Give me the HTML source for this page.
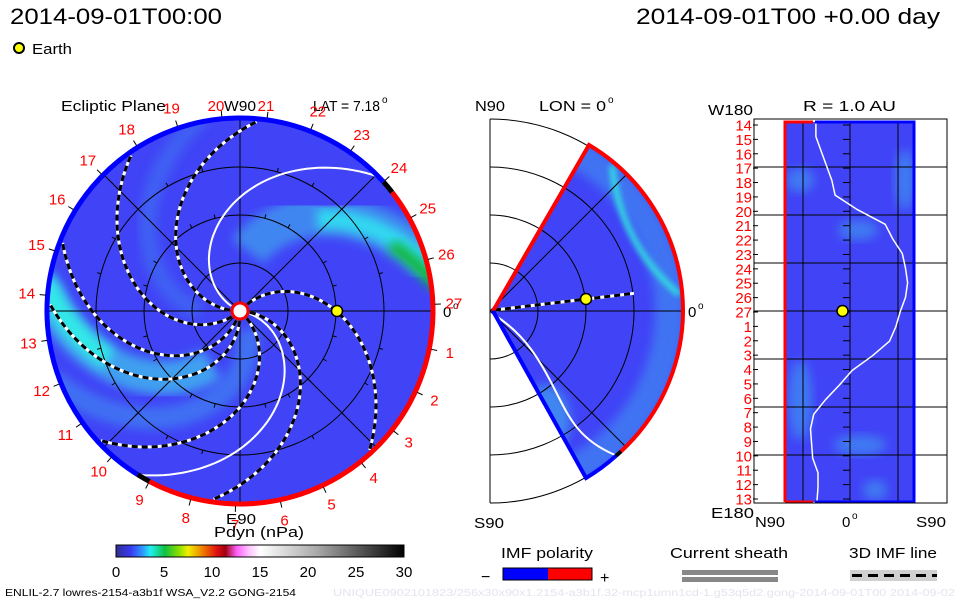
<!DOCTYPE html>
<html><head><meta charset="utf-8"><style>
html,body{margin:0;padding:0;background:#fff;}
svg{display:block;font-family:"Liberation Sans",sans-serif;}
</style></head><body>
<svg id="s" width="960" height="600" viewBox="0 0 960 600">
<defs>
<clipPath id="cl"><circle cx="240" cy="311" r="192"/></clipPath>
<clipPath id="cm"><path d="M493,311 L589,145 A192,192 0 0 1 586,478 Z"/></clipPath>
<clipPath id="cr"><rect x="785" y="122" width="129" height="380"/></clipPath>
<filter id="bl" x="-20%" y="-20%" width="140%" height="140%"><feGaussianBlur stdDeviation="5"/></filter>
<filter id="bl2"><feGaussianBlur stdDeviation="3"/></filter>
<linearGradient id="cbar" x1="0" x2="1" y1="0" y2="0">
<stop offset="0" stop-color="#303090"/><stop offset="0.05" stop-color="#3838f0"/>
<stop offset="0.09" stop-color="#3090ff"/><stop offset="0.12" stop-color="#20f0f0"/>
<stop offset="0.17" stop-color="#10c040"/><stop offset="0.22" stop-color="#90e000"/>
<stop offset="0.25" stop-color="#f0f000"/><stop offset="0.3" stop-color="#f08000"/>
<stop offset="0.35" stop-color="#e01010"/><stop offset="0.38" stop-color="#a00010"/>
<stop offset="0.42" stop-color="#ff60ff"/><stop offset="0.46" stop-color="#ffc0ff"/>
<stop offset="0.5" stop-color="#ffffff"/><stop offset="0.7" stop-color="#a8a8a8"/>
<stop offset="1" stop-color="#000000"/></linearGradient>
</defs>

<text x="10" y="24" font-size="22" textLength="212" lengthAdjust="spacingAndGlyphs">2014-09-01T00:00</text>
<text x="636" y="24" font-size="22" textLength="304" lengthAdjust="spacingAndGlyphs">2014-09-01T00 +0.00 day</text>
<circle cx="19" cy="48" r="5" fill="#ff0" stroke="#000" stroke-width="2"/>
<text x="32" y="54" font-size="15" textLength="40" lengthAdjust="spacingAndGlyphs">Earth</text>

<!-- left panel -->
<g>
<text x="61" y="111" font-size="15" textLength="105" lengthAdjust="spacingAndGlyphs">Ecliptic Plane</text>
<text x="224" y="111" font-size="15" textLength="32" lengthAdjust="spacingAndGlyphs">W90</text>
<text x="313" y="111" font-size="15" textLength="67" lengthAdjust="spacingAndGlyphs">LAT = 7.18</text>
<text x="382" y="103" font-size="10">o</text>
<text x="443" y="317" font-size="15">0</text>
<text x="453" y="309" font-size="10">o</text>
<text x="226" y="524" font-size="15" textLength="30" lengthAdjust="spacingAndGlyphs">E90</text>
<g clip-path="url(#cl)" id="leftFill">
<circle cx="240" cy="311" r="193" fill="#4044f6"/>
</g>
<g id="leftLines"></g>
</g>

<!-- middle panel -->
<g>
<text x="475" y="111" font-size="15" textLength="30" lengthAdjust="spacingAndGlyphs">N90</text>
<text x="539" y="111" font-size="15" textLength="67" lengthAdjust="spacingAndGlyphs">LON = 0</text>
<text x="608" y="103" font-size="10">o</text>
<text x="688" y="317" font-size="15">0</text>
<text x="698" y="309" font-size="10">o</text>
<text x="474" y="528" font-size="15" textLength="30" lengthAdjust="spacingAndGlyphs">S90</text>
<line x1="490" y1="119" x2="490" y2="503" stroke="#000"/>
<g clip-path="url(#cm)" id="midFill"><rect x="490" y="119" width="200" height="384" fill="#4044f6"/></g>
<g id="midLines"></g>
</g>

<!-- right panel -->
<g>
<text x="803" y="111" font-size="15" textLength="93" lengthAdjust="spacingAndGlyphs">R = 1.0 AU</text>
<text x="708" y="115" font-size="15" textLength="45" lengthAdjust="spacingAndGlyphs">W180</text>
<text x="711" y="518" font-size="15" textLength="43" lengthAdjust="spacingAndGlyphs">E180</text>
<text x="755" y="527" font-size="15" textLength="30" lengthAdjust="spacingAndGlyphs">N90</text>
<text x="842" y="527" font-size="15">0</text>
<text x="852" y="519" font-size="10">o</text>
<text x="916" y="527" font-size="15" textLength="30" lengthAdjust="spacingAndGlyphs">S90</text>
<g clip-path="url(#cr)" id="rightFill"><rect x="785" y="122" width="129" height="380" fill="#4044f6"/></g>
<g id="rightLines"></g>
<rect x="754" y="119" width="193" height="384" fill="none" stroke="#000"/>
</g>

<!-- colorbar -->
<g>
<text x="214" y="537" font-size="15" textLength="90" lengthAdjust="spacingAndGlyphs">Pdyn (nPa)</text>
<rect x="116" y="545" width="288" height="12" fill="url(#cbar)" stroke="#000"/>
<g id="cbTicks"></g>
</g>

<g>
<text x="501" y="558" font-size="15" textLength="92" lengthAdjust="spacingAndGlyphs">IMF polarity</text>
<text x="481" y="582" font-size="16">−</text>
<rect x="503" y="568" width="45" height="12" fill="#0000ff"/>
<rect x="548" y="568" width="44" height="12" fill="#ff0000"/>
<rect x="503" y="568" width="89" height="12" fill="none" stroke="#000"/>
<text x="600" y="583" font-size="16">+</text>
</g>
<g>
<text x="670" y="558" font-size="15" textLength="118" lengthAdjust="spacingAndGlyphs">Current sheath</text>
<rect x="682" y="570" width="96" height="5" fill="#888"/>
<rect x="682" y="577" width="96" height="5" fill="#888"/>
</g>
<g>
<text x="849" y="558" font-size="15" textLength="88" lengthAdjust="spacingAndGlyphs">3D IMF line</text>
<rect x="850" y="570" width="87" height="11" fill="#d0d0d0"/>
<line x1="852" y1="575.5" x2="937" y2="575.5" stroke="#000" stroke-width="3" stroke-dasharray="10 6"/>
</g>
<text x="5" y="596" font-size="10" textLength="291" lengthAdjust="spacingAndGlyphs">ENLIL-2.7 lowres-2154-a3b1f WSA_V2.2 GONG-2154</text>
<text x="333" y="596" font-size="10" fill="#e4e4ee" textLength="622" lengthAdjust="spacingAndGlyphs">UNIQUE0902101823/256x30x90x1.2154-a3b1f.32-mcp1umn1cd-1.g53q5d2.gong-2014-09-01T00   2014-09-02</text>
</svg>
<script>
// ---- data ----
const dashedSpiralStarts = [48, 180, 220, 254, 273, 318, 357];
const whiteSpiralStarts = [156, -10];
const carringtonLabels = [27,1,2,3,4,5,6,7,8,9,10,11,12,13,14,15,16,17,18,19,20,21,22,23,24,25,26];
const colorbarTicks = [0,5,10,15,20,25,30];
const rightLonLabels = [14,15,16,17,18,19,20,21,22,23,24,25,26,27,1,2,3,4,5,6,7,8,9,10,11,12,13];
const sheathLat = [32,32,27,22,17,14,-7,-33,-40,-49,-52,-54,-52,-47,-43,-37,-21,-2,10,23,34,37,36,35,30,30,31];
const earthLatRight = 7;

const NS='http://www.w3.org/2000/svg';
function mk(tag, attrs, parent){const e=document.createElementNS(NS,tag);for(const k in attrs)e.setAttribute(k,attrs[k]);parent.appendChild(e);return e;}
const CX=240, CY=311, R=193;
const px=(r,t)=>CX+r*Math.cos(t*Math.PI/180), py=(r,t)=>CY-r*Math.sin(t*Math.PI/180);
function spiralPath(t0,k,r0,r1){let d='';for(let r=r0;r<=r1;r+=3){const t=t0-k*r;d+=(d?'L':'M')+px(r,t).toFixed(1)+','+py(r,t).toFixed(1);}return d;}

// left fill patches
const lf=document.getElementById('leftFill');
let e;
e=mk('path',{d:spiralPath(300,0.5,20,200),stroke:'#3f7cf2',"stroke-width":22,fill:'none',filter:'url(#bl)',opacity:0.8},lf);

e=mk('path',{d:spiralPath(200,0.5,40,200),stroke:'#3f6cf2',"stroke-width":18,fill:'none',filter:'url(#bl)',opacity:0.7},lf);

e=mk('path',{d:spiralPath(112,0.5,60,200),stroke:'#3f86f0',"stroke-width":40,fill:'none',filter:'url(#bl)'},lf);

e=mk('path',{d:spiralPath(110,0.5,120,200),stroke:'#30d8f0',"stroke-width":20,fill:'none',filter:'url(#bl)'},lf);

e=mk('path',{d:spiralPath(106,0.5,165,200),stroke:'#10b830',"stroke-width":12,fill:'none',filter:'url(#bl)'},lf);

e=mk('path',{d:spiralPath(272,0.5,60,200),stroke:'#3fa0f0',"stroke-width":34,fill:'none',filter:'url(#bl)'},lf);

e=mk('path',{d:spiralPath(270,0.5,140,200),stroke:'#30e8e8',"stroke-width":22,fill:'none',filter:'url(#bl)'},lf);


const ll=document.getElementById('leftLines');
[48,96,144].forEach(r=>{e=mk('circle',{cx:CX,cy:CY,r:r,fill:'none',stroke:'#000',"stroke-width":1},ll);
});
[0,45,90,135].forEach(a=>{e=mk('line',{x1:px(R,a),y1:py(R,a),x2:px(R,a+180),y2:py(R,a+180),stroke:'#000',"stroke-width":1},ll);
});
for(let a=0;a<360;a+=15){[96,144].forEach(r=>{e=mk('line',{x1:px(r,a),y1:py(r,a),x2:px(r+4,a),y2:py(r+4,a),stroke:'#000'},ll);
});}
whiteSpiralStarts.forEach(t0=>{e=mk('path',{d:spiralPath(t0,0.58,10,195),stroke:'#fff',"stroke-width":2,fill:'none'},ll);
});
dashedSpiralStarts.forEach(t0=>{const d=spiralPath(t0,0.5,10,190);
e=mk('path',{d:d,stroke:'#fff',"stroke-width":3,fill:'none'},ll);

e=mk('path',{d:d,stroke:'#000',"stroke-width":3,fill:'none',"stroke-dasharray":'6 4'},ll);
});
function arc(r,a0,a1){const la=(a1-a0)>180?1:0;return `M${px(r,a0)},${py(r,a0)} A${r},${r} 0 ${la} 0 ${px(r,a1)},${py(r,a1)}`;}
e=mk('path',{d:arc(193,42,238),stroke:'#0000ff',"stroke-width":5,fill:'none'},ll);

e=mk('path',{d:arc(193,242,398),stroke:'#ff0000',"stroke-width":5,fill:'none'},ll);

e=mk('path',{d:arc(193,38,42),stroke:'#000',"stroke-width":5,fill:'none'},ll);

e=mk('path',{d:arc(193,238,242),stroke:'#000',"stroke-width":5,fill:'none'},ll);

e=mk('circle',{cx:CX,cy:CY,r:8,fill:'#fff',stroke:'#ff0000',"stroke-width":3},ll);

e=mk('circle',{cx:px(97,0),cy:py(97,0),r:5.5,fill:'#ff0',stroke:'#000',"stroke-width":1.5},ll);

carringtonLabels.forEach((lab,i)=>{const a=2-13.333*i;
e=mk('line',{x1:px(195,a),y1:py(195,a),x2:px(201,a),y2:py(201,a),stroke:'#000'},ll);

if(lab===20||lab===21)return;
e=mk('text',{x:px(214,a),y:py(214,a)+5,"font-size":15,fill:'#ff0000',"text-anchor":'middle'},ll);
e.textContent=lab;});
e=mk('text',{x:216,y:111,"font-size":15,fill:'#ff0000',"text-anchor":'middle'},ll);
e.textContent='20';
e=mk('text',{x:266,y:111,"font-size":15,fill:'#ff0000',"text-anchor":'middle'},ll);
e.textContent='21';

// middle panel
const MX=490,MY=311;
const mx=(r,t)=>MX+r*Math.cos(t*Math.PI/180), my=(r,t)=>MY-r*Math.sin(t*Math.PI/180);
const mf=document.getElementById('midFill');
e=mk('circle',{cx:MX,cy:MY,r:180,fill:'none',stroke:'#3f80f2',"stroke-width":30,filter:'url(#bl)',opacity:0.8},mf);

e=mk('path',{d:`M${mx(190,50)},${my(190,50)} A190,190 0 0 0 ${mx(190,5)},${my(190,5)}`,fill:'none',stroke:'#30e0e0',"stroke-width":6,filter:'url(#bl2)'},mf);

e=mk('ellipse',{cx:545,cy:420,rx:25,ry:35,fill:'#3f86f0',filter:'url(#bl)'},mf);

const ml=document.getElementById('midLines');
[48,96,144,192].forEach(r=>{e=mk('path',{d:`M${MX},${MY-r} A${r},${r} 0 0 1 ${MX},${MY+r}`,fill:'none',stroke:'#000'},ml);
});
[45,0,-45].forEach(a=>{e=mk('line',{x1:MX,y1:MY,x2:mx(192,a),y2:my(192,a),stroke:'#000'},ml);
});
e=mk('path',{d:`M496,316 C525,335 540,360 555,390 S580,440 615,455`,fill:'none',stroke:'#fff',"stroke-width":2},ml);

e=mk('line',{x1:495,y1:310,x2:mx(145,7),y2:my(145,7),stroke:'#fff',"stroke-width":3},ml);

e=mk('line',{x1:495,y1:310,x2:mx(145,7),y2:my(145,7),stroke:'#000',"stroke-width":3,"stroke-dasharray":'6 4'},ml);

e=mk('path',{d:`M493,311 L589,145 A192,192 0 0 1 ${mx(192,-47)},${my(192,-47)}`,fill:'none',stroke:'#ff0000',"stroke-width":4},ml);

e=mk('path',{d:`M${mx(192,-49)},${my(192,-49)} A192,192 0 0 1 586,478 L493,311`,fill:'none',stroke:'#0000ff',"stroke-width":4},ml);

e=mk('path',{d:`M${mx(192,-47)},${my(192,-47)} A192,192 0 0 1 ${mx(192,-49)},${my(192,-49)}`,fill:'none',stroke:'#000',"stroke-width":4},ml);

e=mk('circle',{cx:586,cy:299,r:5.5,fill:'#ff0',stroke:'#000',"stroke-width":1.5},ml);


// right panel
const RY0=122, RY1=502, latX=l=>850-l*1.067;
const rf=document.getElementById('rightFill');
[[800,180,14,12],[858,230,20,10],[860,445,26,10],[905,180,10,30],[800,400,12,40],[870,520,20,12],[875,490,12,10]].forEach(p=>{
e=mk('ellipse',{cx:p[0],cy:p[1],rx:p[2],ry:p[3],fill:'#3f90f0',filter:'url(#bl)',opacity:0.7},rf);
});
const rl=document.getElementById('rightLines');
for(let k=-3;k<=3;k++){e=mk('line',{x1:754,y1:311+48*k,x2:947,y2:311+48*k,stroke:'#000'},rl);
}
[803,850,898].forEach(x=>{e=mk('line',{x1:x,y1:122,x2:x,y2:502,stroke:'#000'},rl);
});
let sd='';sheathLat.forEach((l,i)=>{const y=RY0+i*(RY1-RY0)/(sheathLat.length-1);sd+=(i?'L':'M')+latX(l).toFixed(1)+','+y.toFixed(1);});
e=mk('path',{d:sd,fill:'none',stroke:'#fff',"stroke-width":1.5,"stroke-linejoin":'round'},rl);

rightLonLabels.forEach((lab,i)=>{const y=RY0+3+i*(RY1-RY0-6)/(rightLonLabels.length-1);
e=mk('line',{x1:753,y1:y,x2:758,y2:y,stroke:'#000'},rl);

e=mk('line',{x1:843,y1:y,x2:850,y2:y,stroke:'#000'},rl);

e=mk('text',{x:752,y:y+5.5,"font-size":15,fill:'#ff0000',"text-anchor":'end'},rl);
e.textContent=lab;});
e=mk('path',{d:'M785,502 L785,122 L813,122 M813,502 L785,502',fill:'none',stroke:'#ff0000',"stroke-width":3},rl);

e=mk('path',{d:'M815,122 L914,122 L914,502 L815,502',fill:'none',stroke:'#0000ff',"stroke-width":3},rl);

e=mk('circle',{cx:latX(earthLatRight),cy:311,r:5.5,fill:'#ff0',stroke:'#000',"stroke-width":1.5},rl);


// colorbar ticks
const cb=document.getElementById('cbTicks');
colorbarTicks.forEach(v=>{const x=116+v*288/30;
e=mk('text',{x:x,y:577,"font-size":15,"text-anchor":'middle'},cb);
e.textContent=v;});
</script>
</body></html>
